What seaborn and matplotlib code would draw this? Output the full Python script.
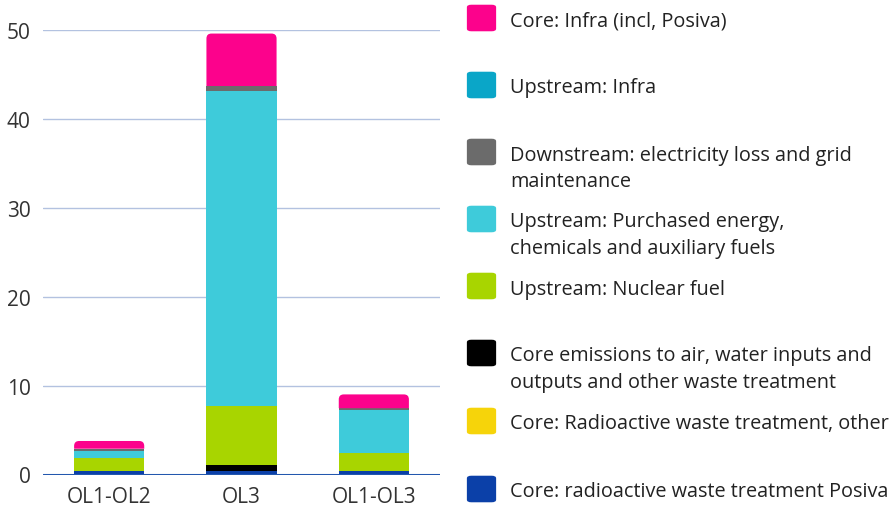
import matplotlib
matplotlib.use("Agg")
import matplotlib.pyplot as plt
from matplotlib.patches import FancyBboxPatch, Rectangle, PathPatch
from matplotlib.path import Path
import seaborn as sns
import pandas as pd

categories = ["OL1-OL2", "OL3", "OL1-OL3"]
series = [
    "Core: Infra (incl, Posiva)",
    "Upstream: Infra",
    "Downstream: electricity loss and grid\nmaintenance",
    "Upstream: Purchased energy,\nchemicals and auxiliary fuels",
    "Upstream: Nuclear fuel",
    "Core emissions to air, water inputs and\noutputs and other waste treatment",
    "Core: Radioactive waste treatment, other",
    "Core: radioactive waste treatment Posiva",
]
colors = ["#fc028c", "#0aa6c8", "#6b6b6b", "#3ecbda", "#a8d500", "#000000", "#f6d40a", "#0b40a8"]

core_infra = [0.87, 5.90, 1.55]
up_infra = [0.05, 0.0, 0.0]
down_loss = [0.20, 0.60, 0.20]
up_energy = [0.82, 35.40, 4.83]
up_fuel = [1.40, 6.60, 2.00]
core_emis = [0.0, 0.75, 0.0]
core_rad_other = [0.0, 0.0, 0.0]
core_rad_posiva = [0.43, 0.35, 0.43]

values = [core_infra, up_infra, down_loss, up_energy, up_fuel, core_emis, core_rad_other, core_rad_posiva]
yticks = [0, 10, 20, 30, 40, 50]

rows = []
for s, vals in zip(series, values):
    for c, v in zip(categories, vals):
        rows.append({"cat": c, "series": s, "val": v})
df = pd.DataFrame(rows)

sns.set_theme(style="white")
plt.rcParams["font.family"] = ["Open Sans", "DejaVu Sans"]

W, H = 894, 510
fig = plt.figure(figsize=(W / 100, H / 100), dpi=100)
ax = fig.add_axes([43 / W, 34.5 / H, (440 - 43) / W, (475.5 - 31) / H])

sns.histplot(data=df, x="cat", weights="val", hue="series", hue_order=series,
             palette=dict(zip(series, colors)), multiple="stack", discrete=True,
             shrink=0.53, alpha=1, linewidth=0, legend=False, ax=ax, zorder=3)

ax.set_xlim(-0.5, 2.5)
ax.set_ylim(0, 50)

# round the top corners of the top segment of each stack
bars = [p for p in ax.patches if isinstance(p, Rectangle) and p.get_height() > 0]
tops = {}
for p in bars:
    key = round(p.get_x() + p.get_width() / 2, 3)
    if key not in tops or p.get_y() + p.get_height() > tops[key].get_y() + tops[key].get_height():
        tops[key] = p
px_x = (440 - 43) / 3.0
px_y = (475.5 - 31) / 50.0
for p in tops.values():
    x, y, w, h = p.get_x(), p.get_y(), p.get_width(), p.get_height()
    col = p.get_facecolor()
    p.set_visible(False)
    rpx = min(5.0, h * px_y)
    rx = rpx / px_x
    ry = rpx / px_y
    verts = [(x, y), (x + w, y), (x + w, y + h - ry), (x + w, y + h), (x + w - rx, y + h),
             (x + rx, y + h), (x, y + h), (x, y + h - ry), (x, y)]
    codes = [Path.MOVETO, Path.LINETO, Path.LINETO, Path.CURVE3, Path.CURVE3,
             Path.LINETO, Path.CURVE3, Path.CURVE3, Path.CLOSEPOLY]
    ax.add_patch(PathPatch(Path(verts, codes), facecolor=col, edgecolor="none", zorder=3))

ax.set_yticks(yticks)
ax.set_xticks(range(len(categories)))
ax.set_xticklabels(categories)
ax.set_xlabel("")
ax.set_ylabel("")
for sp in ax.spines.values():
    sp.set_visible(False)
ax.grid(axis="y", color="#b3c2e0", linewidth=1.0, zorder=0)
ax.grid(axis="x", visible=False)
ax.axhline(0, color="#2357ae", linewidth=2.2, zorder=4)
ax.tick_params(axis="both", length=0, labelsize=15, colors="#333333")
ax.tick_params(axis="y", pad=9)
ax.tick_params(axis="x", pad=8)

# legend
centers = [19, 86, 153, 220, 287, 354, 422, 490]
sq = 29
for lab, col, cy in zip(series, colors, centers):
    x0 = 467
    y0 = cy - sq / 2
    p = FancyBboxPatch((x0 / W + 3 / W, 1 - (y0 + sq) / H + 3 / H), (sq - 6) / W, (sq - 6) / H,
                       boxstyle="round,pad=0.0035,rounding_size=0.005",
                       transform=fig.transFigure, facecolor=col, edgecolor="none")
    fig.patches.append(p)
    fig.text(510 / W, 1 - (y0 + 7) / H, lab, fontsize=14.3, color="#222222",
             va="top", ha="left", linespacing=1.44)

fig.savefig("out.png", dpi=100, facecolor="white")
